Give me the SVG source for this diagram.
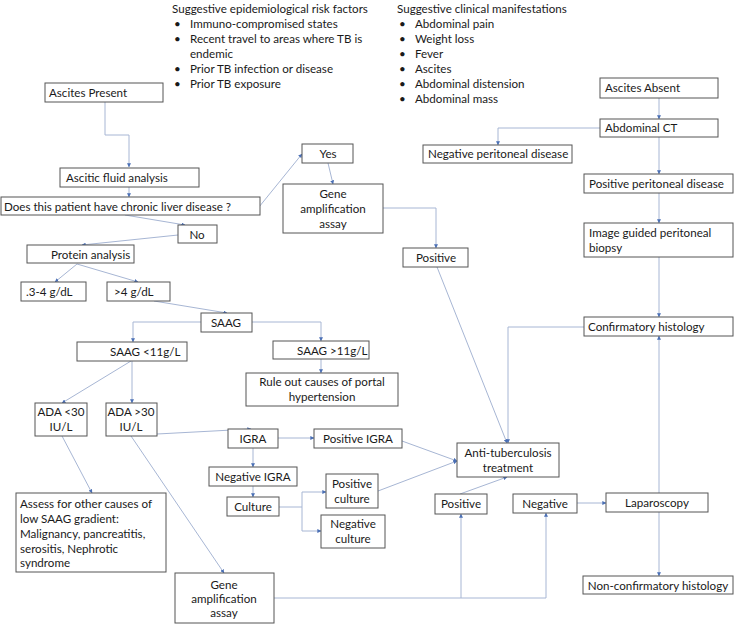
<svg xmlns="http://www.w3.org/2000/svg" width="737" height="625" viewBox="0 0 737 625">
<style>
text{font-family:Lato,"Open Sans","Liberation Sans",sans-serif;font-size:11.6px;fill:#1a1a1a}
.c{text-anchor:middle}
rect{fill:#fff;stroke:#555;stroke-width:1}
.ln{fill:none;stroke:#a7b6d4;stroke-width:1;marker-end:url(#a)}
.nl{fill:none;stroke:#a7b6d4;stroke-width:1}
</style>
<defs>
<marker id="a" viewBox="0 0 6 6" refX="5.5" refY="3" markerWidth="4" markerHeight="4" orient="auto">
<path d="M0,0 L6,3 L0,6 z" fill="#4a6fb5"/>
</marker>
</defs>
<rect x="0" y="0" width="737" height="625" style="fill:#fff;stroke:none"/>

<g id="risk-factors">
<text x="172" y="13">Suggestive epidemiological risk factors</text>
<text x="174" y="28">•</text><text x="190" y="28">Immuno-compromised states</text>
<text x="174" y="43">•</text><text x="190" y="43">Recent travel to areas where TB is</text>
<text x="190" y="58">endemic</text>
<text x="174" y="73">•</text><text x="190" y="73">Prior TB infection or disease</text>
<text x="174" y="88">•</text><text x="190" y="88">Prior TB exposure</text>
</g>
<g id="clinical">
<text x="397" y="13">Suggestive clinical manifestations</text>
<text x="399" y="28">•</text><text x="415" y="28">Abdominal pain</text>
<text x="399" y="43">•</text><text x="415" y="43">Weight loss</text>
<text x="399" y="58">•</text><text x="415" y="58">Fever</text>
<text x="399" y="73">•</text><text x="415" y="73">Ascites</text>
<text x="399" y="88">•</text><text x="415" y="88">Abdominal distension</text>
<text x="399" y="103">•</text><text x="415" y="103">Abdominal mass</text>
</g>

<g id="connectors">
<path class="ln" d="M105,102 V135 H129 V167"/>
<path class="ln" d="M129,187 V197"/>
<path class="ln" d="M259,207 L302,154"/>
<path class="ln" d="M328,163 L333,184"/>
<path class="ln" d="M383,208 H436 V248"/>
<path class="ln" d="M125,215 L185,225"/>
<path class="ln" d="M178,235 L82,245"/>
<path class="ln" d="M77,264 L55,282"/>
<path class="ln" d="M77,264 L138,282"/>
<path class="ln" d="M154,301 L227,313"/>
<path class="ln" d="M201,322 H133 V342"/>
<path class="ln" d="M252,322 H321 V341"/>
<path class="ln" d="M321,359 V373"/>
<path class="ln" d="M131,361 L62,403"/>
<path class="ln" d="M132,361 V403"/>
<path class="ln" d="M62,436 L92,493"/>
<path class="ln" d="M131,436 L224,573"/>
<path class="ln" d="M157,434 L251,429"/>
<path class="ln" d="M278,438 H314"/>
<path class="ln" d="M253,448 V467"/>
<path class="ln" d="M253,486 V497"/>
<path class="ln" d="M279,507 H302 V492 H326"/>
<path class="ln" d="M302,507 V531 H321"/>
<path class="ln" d="M402,441 L457,461"/>
<path class="ln" d="M378,491 L457,461"/>
<path class="ln" d="M437,267 L507,443"/>
<path class="ln" d="M584,327 H508 V443"/>
<path class="ln" d="M460,494 L507,477"/>
<path class="nl" d="M274,598 H546"/>
<path class="ln" d="M461,598 V514"/>
<path class="ln" d="M546,598 V513"/>
<path class="ln" d="M577,503 H606"/>
<path class="ln" d="M659,493 V336"/>
<path class="ln" d="M659,512 V576"/>
<path class="ln" d="M659,98 V119"/>
<path class="ln" d="M600,128 H498 V145"/>
<path class="ln" d="M659,137 V174"/>
<path class="ln" d="M659,193 V223"/>
<path class="ln" d="M659,257 V317"/>
</g>

<g id="ascites-present"><rect x="45" y="83" width="118" height="19"/><text x="49" y="97">Ascites Present</text></g>
<g id="ascitic-fluid"><rect x="60" y="168" width="139" height="19"/><text x="66" y="182">Ascitic fluid analysis</text></g>
<g id="chronic-liver"><rect x="1" y="197" width="259" height="18"/><text x="4" y="211">Does this patient have chronic liver disease ?</text></g>
<g id="yes"><rect x="302" y="144" width="51" height="19"/><text class="c" x="328" y="158">Yes</text></g>
<g id="gene-amp-1"><rect x="283" y="184" width="100" height="49"/><text class="c" x="333" y="198">Gene</text><text class="c" x="333" y="213">amplification</text><text class="c" x="333" y="228">assay</text></g>
<g id="positive-1"><rect x="403" y="248" width="65" height="19"/><text class="c" x="436" y="262">Positive</text></g>
<g id="no"><rect x="178" y="225" width="39" height="18"/><text class="c" x="197" y="239">No</text></g>
<g id="protein"><rect x="27" y="245" width="107" height="18"/><text x="51" y="259">Protein analysis</text></g>
<g id="low-protein"><rect x="21" y="282" width="65" height="19"/><text x="26" y="296">.3-4 g/dL</text></g>
<g id="high-protein"><rect x="107" y="282" width="63" height="19"/><text x="114" y="296">&gt;4 g/dL</text></g>
<g id="saag"><rect x="201" y="313" width="51" height="19"/><text class="c" x="226" y="327">SAAG</text></g>
<g id="saag-low"><rect x="77" y="342" width="110" height="19"/><text x="110" y="356">SAAG &lt;11g/L</text></g>
<g id="saag-high"><rect x="273" y="341" width="96" height="18"/><text x="297" y="355">SAAG &gt;11g/L</text></g>
<g id="rule-out"><rect x="246" y="373" width="152" height="33"/><text class="c" x="322" y="386">Rule out causes of portal</text><text class="c" x="322" y="401">hypertension</text></g>
<g id="ada-low"><rect x="35" y="403" width="52" height="33"/><text class="c" x="61" y="416">ADA &lt;30</text><text class="c" x="61" y="431">IU/L</text></g>
<g id="ada-high"><rect x="106" y="403" width="51" height="33"/><text class="c" x="131" y="416">ADA &gt;30</text><text class="c" x="131" y="431">IU/L</text></g>
<g id="assess"><rect x="16" y="493" width="150" height="79"/><text x="20" y="508">Assess for other causes of</text><text x="20" y="523">low SAAG gradient:</text><text x="20" y="538">Malignancy, pancreatitis,</text><text x="20" y="553">serositis, Nephrotic</text><text x="20" y="567">syndrome</text></g>
<g id="gene-amp-2"><rect x="175" y="573" width="99" height="50"/><text class="c" x="224" y="589">Gene</text><text class="c" x="224" y="603">amplification</text><text class="c" x="224" y="617">assay</text></g>
<g id="igra"><rect x="228" y="429" width="50" height="19"/><text class="c" x="253" y="443">IGRA</text></g>
<g id="positive-igra"><rect x="314" y="429" width="88" height="19"/><text class="c" x="358" y="443">Positive IGRA</text></g>
<g id="negative-igra"><rect x="209" y="467" width="88" height="19"/><text class="c" x="253" y="481">Negative IGRA</text></g>
<g id="culture"><rect x="227" y="497" width="52" height="19"/><text class="c" x="253" y="511">Culture</text></g>
<g id="positive-culture"><rect x="326" y="474" width="52" height="34"/><text class="c" x="352" y="488">Positive</text><text class="c" x="352" y="503">culture</text></g>
<g id="negative-culture"><rect x="321" y="515" width="64" height="33"/><text class="c" x="353" y="528">Negative</text><text class="c" x="353" y="543">culture</text></g>
<g id="anti-tb"><rect x="457" y="443" width="102" height="34"/><text class="c" x="508" y="457">Anti-tuberculosis</text><text class="c" x="508" y="472">treatment</text></g>
<g id="positive-2"><rect x="435" y="494" width="52" height="20"/><text class="c" x="461" y="508">Positive</text></g>
<g id="negative"><rect x="513" y="494" width="64" height="19"/><text class="c" x="545" y="508">Negative</text></g>
<g id="laparoscopy"><rect x="606" y="493" width="102" height="19"/><text class="c" x="657" y="507">Laparoscopy</text></g>
<g id="non-confirmatory"><rect x="583" y="576" width="150" height="18"/><text class="c" x="658" y="590">Non-confirmatory histology</text></g>
<g id="ascites-absent"><rect x="600" y="78" width="118" height="20"/><text x="605" y="92">Ascites Absent</text></g>
<g id="abdominal-ct"><rect x="600" y="119" width="118" height="18"/><text x="605" y="132">Abdominal CT</text></g>
<g id="negative-peritoneal"><rect x="423" y="145" width="149" height="18"/><text x="428" y="158">Negative peritoneal disease</text></g>
<g id="positive-peritoneal"><rect x="584" y="174" width="149" height="19"/><text x="589" y="188">Positive peritoneal disease</text></g>
<g id="biopsy"><rect x="584" y="223" width="149" height="34"/><text x="589" y="237">Image guided peritoneal</text><text x="589" y="252">biopsy</text></g>
<g id="confirmatory"><rect x="584" y="317" width="149" height="19"/><text x="588" y="331">Confirmatory histology</text></g>
</svg>
